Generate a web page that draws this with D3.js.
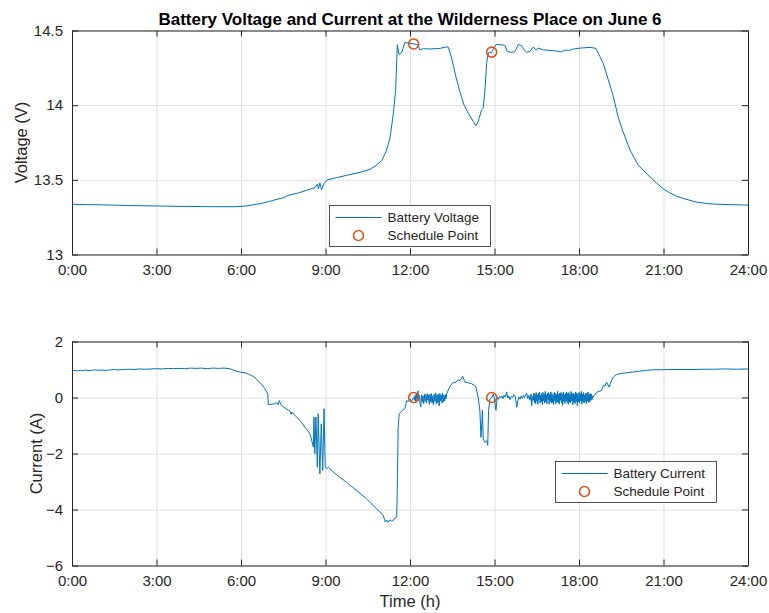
<!DOCTYPE html>
<html>
<head>
<meta charset="utf-8">
<script src="https://cdn.jsdelivr.net/npm/d3@7"></script>
<style>
  body { margin: 0; background: #fff; }
  svg { font-family: "Liberation Sans", Arial, Helvetica, sans-serif; }
</style>
</head>
<body>
<script>
// ---- data (hours since midnight) ----
const timeTickValues = [0, 3, 6, 9, 12, 15, 18, 21, 24];
const timeTickLabels = ['0:00', '3:00', '6:00', '9:00', '12:00', '15:00', '18:00', '21:00', '24:00'];
const voltageTicks = [13, 13.5, 14, 14.5];
const currentTicks = [-6, -4, -2, 0, 2];

const voltageData = [
  [0, 13.336], [0.5, 13.334], [1, 13.333], [2, 13.328], [3, 13.325], [4, 13.322], [5, 13.320],
  [5.8, 13.320], [6.2, 13.325], [6.67, 13.34], [7.0, 13.355], [7.15, 13.363], [7.5, 13.38],
  [7.74, 13.40], [8.0, 13.41], [8.33, 13.43], [8.63, 13.448], [8.71, 13.47], [8.75, 13.44],
  [8.80, 13.48], [8.86, 13.435], [8.95, 13.475], [9.06, 13.50], [9.4, 13.515], [9.75, 13.53],
  [10.22, 13.55], [10.58, 13.57], [10.82, 13.60], [11.0, 13.63], [11.15, 13.69], [11.29, 13.78],
  [11.41, 13.946], [11.49, 14.10], [11.55, 14.405], [11.61, 14.34], [11.70, 14.35], [11.82, 14.42],
  [11.94, 14.415], [12.13, 14.41], [12.29, 14.405], [12.35, 14.37], [12.47, 14.378], [12.7, 14.376],
  [13.06, 14.38], [13.28, 14.39], [13.36, 14.388], [13.48, 14.315], [13.63, 14.19], [13.77, 14.09],
  [13.92, 14.0], [14.07, 13.946], [14.25, 13.89], [14.34, 13.862], [14.42, 13.89], [14.54, 13.968],
  [14.60, 13.98], [14.66, 14.10], [14.72, 14.28], [14.78, 14.35], [14.9, 14.355], [15.05, 14.405],
  [15.25, 14.405], [15.37, 14.40], [15.45, 14.36], [15.61, 14.353], [15.73, 14.36], [15.84, 14.405],
  [15.96, 14.40], [16.05, 14.37], [16.14, 14.355], [16.26, 14.36], [16.38, 14.39], [16.47, 14.367],
  [16.55, 14.383], [16.73, 14.37], [16.97, 14.367], [17.21, 14.362], [17.38, 14.357], [17.50, 14.37],
  [17.62, 14.364], [17.80, 14.376], [18.03, 14.382], [18.39, 14.387], [18.60, 14.38], [18.74, 14.326],
  [18.86, 14.28], [19.04, 14.17], [19.22, 14.057], [19.39, 13.92], [19.57, 13.82], [19.81, 13.70],
  [19.95, 13.65], [20.10, 13.60], [20.3, 13.56], [20.52, 13.52], [20.75, 13.48], [20.99, 13.44],
  [21.2, 13.415], [21.47, 13.39], [21.8, 13.37], [22.18, 13.35], [22.6, 13.34], [23.0, 13.336],
  [23.5, 13.333], [24, 13.331]
];

const currentData = [
  [0, 0.96], [0.1, 0.97], [0.2, 0.95], [0.3, 0.97], [0.4, 0.96], [0.5, 0.98], [0.6, 0.96], [0.7, 0.97],
  [0.8, 0.99], [0.9, 0.97], [1.0, 0.98], [1.2, 0.97], [1.4, 0.99], [1.5, 1.0], [1.6, 0.98], [1.8, 1.0],
  [2.0, 1.01], [2.2, 1.0], [2.4, 1.02], [2.6, 1.01], [2.8, 1.02], [3.0, 1.03], [3.2, 1.02], [3.4, 1.04],
  [3.6, 1.03], [3.8, 1.04], [4.0, 1.03], [4.2, 1.05], [4.4, 1.04], [4.6, 1.05], [4.8, 1.03], [5.0, 1.05],
  [5.2, 1.04], [5.4, 1.05], [5.6, 1.03], [5.75, 0.97], [5.9, 0.92], [6.0, 0.90], [6.15, 0.88],
  [6.3, 0.82], [6.45, 0.74], [6.6, 0.61], [6.75, 0.45], [6.85, 0.31], [6.95, 0.12], [6.97, -0.25],
  [7.1, -0.24], [7.2, -0.22], [7.27, -0.18], [7.32, -0.26], [7.36, -0.11], [7.44, -0.29], [7.6, -0.40],
  [7.74, -0.49], [7.78, -0.60], [7.8, -0.52], [8.09, -0.82], [8.3, -1.10], [8.45, -1.30],
  [8.57, -1.77], [8.59, -0.70], [8.62, -2.01], [8.66, -0.70], [8.71, -2.49], [8.74, -0.58],
  [8.80, -2.73], [8.85, -0.94], [8.90, -2.61], [8.95, -0.40], [8.99, -2.49], [9.04, -2.55],
  [9.10, -2.49], [9.3, -2.68], [9.51, -2.85], [9.75, -3.03], [9.8, -3.08], [10.11, -3.32],
  [10.46, -3.62], [10.82, -3.98], [11.05, -4.21], [11.12, -4.45], [11.18, -4.38], [11.22, -4.46],
  [11.29, -4.37], [11.35, -4.42], [11.41, -4.39], [11.47, -4.30], [11.53, -4.27], [11.56, -2.5],
  [11.58, -1.06], [11.62, -0.58], [11.70, -0.49], [11.76, -0.44], [11.82, -0.40], [11.88, -0.11],
  [11.94, -0.15], [12.0, -0.05], [12.06, -0.12], [12.13, 0.0],
  [12.16, -0.10], [12.185, 0.10], [12.21, -0.18], [12.235, 0.14], [12.26, -0.06], [12.285, 0.24],
  [12.31, -0.12], [12.335, 0.08], [12.36, -0.20], [12.385, -0.34], [12.41, 0.10], [12.435, -0.16],
  [12.46, 0.06], [12.485, -0.22], [12.51, 0.12], [12.535, -0.14], [12.56, 0.10], [12.585, -0.20],
  [12.61, 0.14], [12.635, -0.10], [12.66, 0.08], [12.685, -0.24], [12.71, 0.12], [12.735, -0.16],
  [12.76, 0.14], [12.785, -0.20], [12.81, 0.06], [12.835, -0.26], [12.86, 0.12], [12.885, -0.14],
  [12.91, 0.16], [12.935, -0.22], [12.96, 0.10], [12.985, -0.18], [13.01, 0.12], [13.035, -0.30],
  [13.06, 0.14], [13.085, -0.12], [13.11, 0.10], [13.135, -0.20], [13.16, 0.16], [13.185, -0.16],
  [13.21, 0.08], [13.235, -0.12], [13.26, 0.10], [13.285, -0.04],
  [13.3, 0.13], [13.42, 0.40], [13.54, 0.55], [13.6, 0.52],
  [13.7, 0.62], [13.77, 0.61], [13.82, 0.66], [13.87, 0.76], [13.92, 0.62], [13.95, 0.55],
  [14.05, 0.53], [14.19, 0.49], [14.28, 0.44], [14.34, 0.37], [14.42, 0.01], [14.48, -0.46],
  [14.52, -1.42], [14.55, -0.90], [14.57, -0.46], [14.60, -1.48], [14.66, -1.60], [14.72, -1.54],
  [14.76, -1.71], [14.79, -0.46], [14.84, -0.05], [14.90, 0.0], [14.96, 0.13], [15.0, -0.05],
  [15.05, -0.46], [15.10, 0.01],
  [15.14, -0.06], [15.18, 0.04], [15.22, -0.02], [15.26, 0.06], [15.3, -0.04], [15.34, 0.08],
  [15.38, 0.02], [15.43, 0.20], [15.47, -0.02], [15.51, 0.06], [15.55, -0.08], [15.6, 0.04],
  [15.64, 0.0], [15.68, 0.10], [15.73, 0.06], [15.76, -0.14], [15.79, -0.35], [15.83, -0.10],
  [15.87, 0.02], [15.91, -0.06], [15.95, 0.06], [15.99, -0.04], [16.03, 0.08], [16.07, 0.0],
  [16.11, 0.10], [16.14, 0.16], [16.18, -0.04], [16.22, 0.08], [16.26, -0.10], [16.3, 0.12],
  [16.32, -0.29], [16.35, 0.04], [16.38, -0.10],
  [16.40, 0.16], [16.42, -0.18], [16.44, 0.12], [16.46, -0.22], [16.48, 0.18], [16.50, -0.14],
  [16.52, 0.10], [16.54, -0.24], [16.56, 0.16], [16.58, -0.10], [16.60, 0.20], [16.62, -0.20],
  [16.64, 0.08], [16.66, -0.16], [16.68, 0.14], [16.70, -0.26], [16.72, 0.18], [16.74, -0.12],
  [16.76, 0.12], [16.78, -0.20], [16.80, 0.22], [16.82, -0.16], [16.84, 0.10], [16.86, -0.22],
  [16.88, 0.16], [16.90, -0.08], [16.92, 0.18], [16.94, -0.24], [16.96, 0.12], [16.98, -0.14],
  [17.00, 0.20], [17.02, -0.20], [17.04, 0.14], [17.06, -0.18], [17.08, 0.08], [17.10, -0.26],
  [17.12, 0.18], [17.14, -0.12], [17.16, 0.16], [17.18, -0.22], [17.20, 0.10], [17.22, -0.16],
  [17.24, 0.22], [17.26, -0.18], [17.28, 0.12], [17.30, -0.24], [17.32, 0.16], [17.34, -0.10],
  [17.36, 0.18], [17.38, -0.20], [17.40, 0.12], [17.42, -0.28], [17.44, 0.20], [17.46, -0.14],
  [17.48, 0.10], [17.50, -0.22], [17.52, 0.16], [17.54, -0.12], [17.56, 0.20], [17.58, -0.18],
  [17.60, 0.14], [17.62, -0.24], [17.64, 0.18], [17.66, -0.16], [17.68, 0.12], [17.70, -0.20],
  [17.72, 0.22], [17.74, -0.12], [17.76, 0.14], [17.78, -0.26], [17.80, 0.16], [17.82, -0.18],
  [17.84, 0.10], [17.86, -0.22], [17.88, 0.20], [17.90, -0.14], [17.92, 0.16], [17.94, -0.30],
  [17.96, 0.12], [17.98, -0.16], [18.00, 0.18], [18.02, -0.20], [18.04, 0.14], [18.06, -0.12],
  [18.08, 0.22], [18.10, -0.24], [18.12, 0.12], [18.14, -0.16], [18.16, 0.18], [18.18, -0.20],
  [18.20, 0.10], [18.22, -0.14], [18.24, 0.16], [18.26, -0.22], [18.28, 0.14], [18.30, -0.12],
  [18.32, 0.20], [18.34, -0.18], [18.36, 0.12], [18.38, -0.16], [18.40, 0.14], [18.42, -0.10],
  [18.44, 0.12], [18.46, -0.08], [18.48, 0.06],
  [18.5, 0.01], [18.56, 0.10], [18.63, 0.19], [18.72, 0.22], [18.8, 0.25], [18.86, 0.43],
  [18.92, 0.40], [18.98, 0.55], [19.03, 0.45], [19.07, 0.37], [19.15, 0.60], [19.22, 0.73],
  [19.33, 0.82], [19.5, 0.86], [19.69, 0.88], [19.9, 0.91], [20.16, 0.94], [20.4, 0.97],
  [20.64, 0.99], [20.9, 0.99], [21.2, 1.0], [21.58, 1.0], [22.0, 1.0], [22.4, 1.01], [22.77, 1.01],
  [23.2, 1.02], [23.6, 1.01], [24, 1.02]
];

const scheduleHours = [12.13, 14.90];
const scheduleVoltage = [14.41, 14.355];
const scheduleCurrent = [0, 0];

// ---- canvas ----
const width = 769;
const height = 613;
const lineColor = '#0072bd';
const markerColor = '#d95319';
const textColor = '#262626';

const svg = d3.select('body').append('svg').attr('width', width).attr('height', height);

const x = d3.scaleLinear().domain([0, 24]).range([72, 748]);

const drawPanel = (opts) => {
  const { top, bottom, domain, ticks, data, marks, yLabel, yLabelX, legend } = opts;
  const y = d3.scaleLinear().domain(domain).range([bottom, top]);
  const g = svg.append('g');

  // grid
  g.append('g')
    .attr('transform', `translate(0, ${bottom})`)
    .call(d3.axisBottom(x).tickValues(timeTickValues).tickSize(-(bottom - top)).tickFormat(''))
    .call((a) => a.select('.domain').remove())
    .call((a) => a.selectAll('line').attr('stroke', '#dfdfdf'));
  g.append('g')
    .attr('transform', 'translate(72, 0)')
    .call(d3.axisLeft(y).tickValues(ticks).tickSize(-(748 - 72)).tickFormat(''))
    .call((a) => a.select('.domain').remove())
    .call((a) => a.selectAll('line').attr('stroke', '#dfdfdf'));

  // data line
  const line = d3.line().x((d) => x(d[0])).y((d) => y(d[1]));
  g.append('path')
    .datum(data)
    .attr('fill', 'none')
    .attr('stroke', lineColor)
    .attr('stroke-width', 1)
    .attr('stroke-linejoin', 'round')
    .attr('d', line);

  // schedule points
  g.append('g')
    .selectAll('circle')
    .data(scheduleHours)
    .enter()
    .append('circle')
    .attr('cx', (d) => x(d))
    .attr('cy', (d, i) => y(marks[i]))
    .attr('r', 5)
    .attr('fill', 'none')
    .attr('stroke', markerColor)
    .attr('stroke-width', 1.6);

  // axes (box with inward ticks)
  const tickLen = 6;
  const bx = g.append('g')
    .attr('transform', `translate(0, ${bottom})`)
    .call(d3.axisBottom(x).tickValues(timeTickValues).tickSizeInner(-tickLen).tickSizeOuter(0)
      .tickFormat((d, i) => timeTickLabels[i]).tickPadding(10));
  const tx = g.append('g')
    .attr('transform', `translate(0, ${top})`)
    .call(d3.axisTop(x).tickValues(timeTickValues).tickSizeInner(-tickLen).tickSizeOuter(0).tickFormat(''));
  const ly = g.append('g')
    .attr('transform', 'translate(72, 0)')
    .call(d3.axisLeft(y).tickValues(ticks).tickSizeInner(-tickLen).tickSizeOuter(0)
      .tickFormat((d) => d3.format('')(d)).tickPadding(9));
  const ry = g.append('g')
    .attr('transform', 'translate(748, 0)')
    .call(d3.axisRight(y).tickValues(ticks).tickSizeInner(-tickLen).tickSizeOuter(0).tickFormat(''));

  [bx, tx, ly, ry].forEach((a) => {
    a.select('.domain').attr('stroke', textColor).attr('stroke-width', 1);
    a.selectAll('line').attr('stroke', textColor);
    a.selectAll('text').attr('fill', textColor).attr('font-size', '15px')
      .attr('font-family', '"Liberation Sans", Arial, sans-serif');
  });

  // y label
  g.append('text')
    .attr('transform', `translate(${yLabelX}, ${(top + bottom) / 2}) rotate(-90)`)
    .attr('text-anchor', 'middle')
    .attr('fill', textColor)
    .attr('font-size', '16.5px')
    .text(yLabel);

  // legend
  const lg = g.append('g');
  lg.append('rect')
    .attr('x', legend.x).attr('y', legend.y)
    .attr('width', legend.w).attr('height', legend.h)
    .attr('fill', '#fff').attr('stroke', textColor).attr('stroke-width', 0.8);
  lg.append('line')
    .attr('x1', legend.x + 6).attr('x2', legend.x + 52)
    .attr('y1', legend.y + 12).attr('y2', legend.y + 12)
    .attr('stroke', lineColor).attr('stroke-width', 1);
  lg.append('circle')
    .attr('cx', legend.x + 29).attr('cy', legend.y + 30).attr('r', 5)
    .attr('fill', 'none').attr('stroke', markerColor).attr('stroke-width', 1.6);
  lg.selectAll('text.lab')
    .data([legend.name, 'Schedule Point'])
    .enter()
    .append('text')
    .attr('x', legend.x + 58)
    .attr('y', (d, i) => legend.y + 12 + i * 18)
    .attr('dy', '0.35em')
    .attr('fill', textColor)
    .attr('font-size', '13.5px')
    .text((d) => d);
};

drawPanel({
  top: 30.5, bottom: 254.5, domain: [13, 14.5], ticks: voltageTicks,
  data: voltageData, marks: scheduleVoltage, yLabel: 'Voltage (V)', yLabelX: 27,
  legend: { x: 329.5, y: 205.5, w: 161, h: 41, name: 'Battery Voltage' }
});

drawPanel({
  top: 341.5, bottom: 565.5, domain: [-6, 2], ticks: currentTicks,
  data: currentData, marks: scheduleCurrent, yLabel: 'Current (A)', yLabelX: 42,
  legend: { x: 555.5, y: 461.5, w: 161, h: 41, name: 'Battery Current' }
});

// title
svg.append('text')
  .attr('x', 410)
  .attr('y', 25)
  .attr('text-anchor', 'middle')
  .attr('font-size', '17px')
  .attr('font-weight', 'bold')
  .attr('fill', '#000')
  .text('Battery Voltage and Current at the Wilderness Place on June 6');

// x label
svg.append('text')
  .attr('x', 410)
  .attr('y', 607)
  .attr('text-anchor', 'middle')
  .attr('fill', textColor)
  .attr('font-size', '16.5px')
  .text('Time (h)');
</script>
</body>
</html>
